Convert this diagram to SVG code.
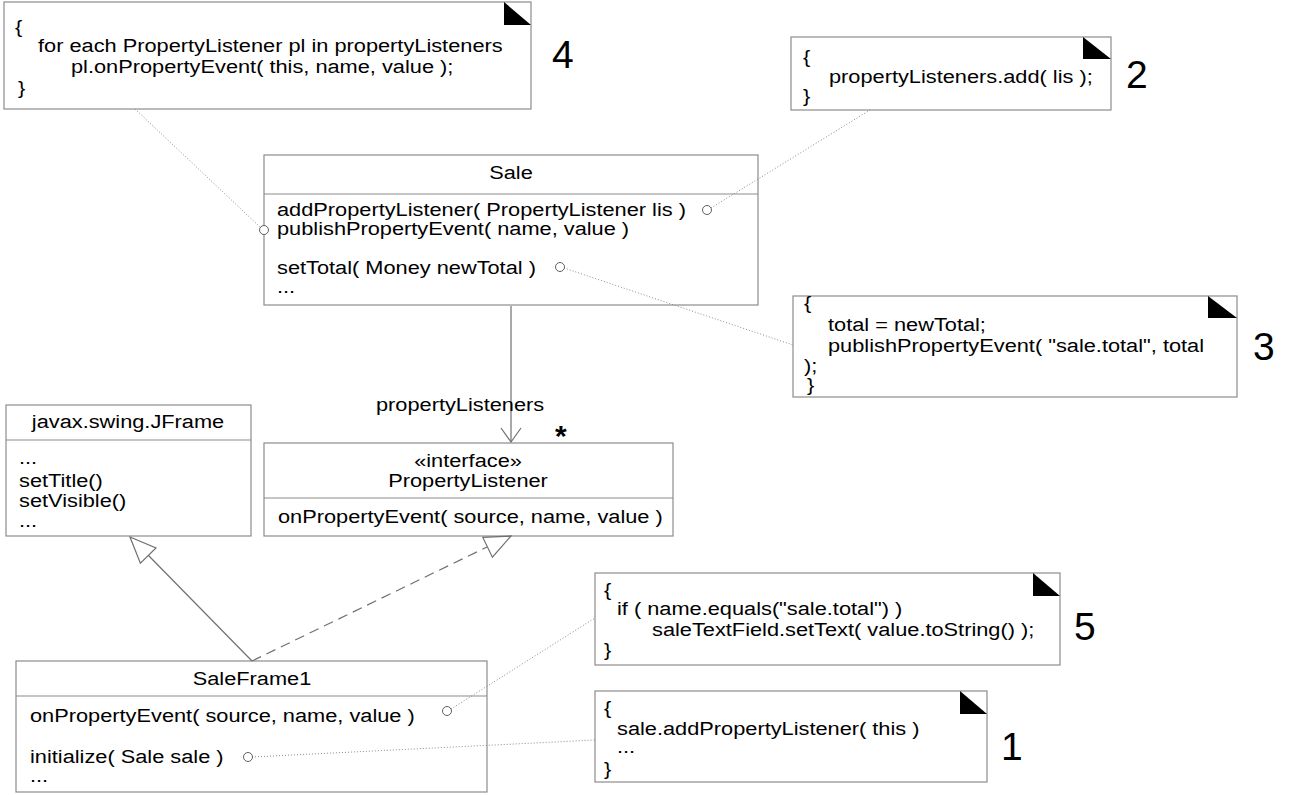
<svg xmlns="http://www.w3.org/2000/svg" width="1296" height="795" viewBox="0 0 1296 795">
<defs>
<style>
text { font-family: "Liberation Sans", Arial, sans-serif; fill: #000; }
.t { font-size: 18px; }
.c { text-anchor: middle; }
.num { font-size: 39px; }
.box { fill: #fff; stroke: #8c8c8c; stroke-width: 1.2; }
.sep { stroke: #8c8c8c; stroke-width: 1.2; }
.ear { fill: #000; }
.dot { fill: none; stroke: #8a8a8a; stroke-width: 1; stroke-dasharray: 1 2; }
.pin { fill: #fff; stroke: #606060; stroke-width: 1; }
.ln { fill: none; stroke: #707070; stroke-width: 1.2; }
.hd { fill: #fff; stroke: #707070; stroke-width: 1.2; }
</style>
</defs>
<rect width="1296" height="795" fill="#fff"/>

<g id="note4">
  <rect class="box" x="4" y="2" width="527" height="107"/>
  <polygon class="ear" points="504,2 531,25 504,25"/>
  <text class="t" transform="translate(15,33) scale(1.21,1)">{</text>
  <text class="t" transform="translate(38,52) scale(1.21,1)">for each PropertyListener pl in propertyListeners</text>
  <text class="t" transform="translate(71,73) scale(1.21,1)">pl.onPropertyEvent( this, name, value );</text>
  <text class="t" transform="translate(18,94) scale(1.21,1)">}</text>
  <text class="num" x="552" y="68">4</text>
</g>

<g id="note2">
  <rect class="box" x="791" y="37" width="320" height="73"/>
  <polygon class="ear" points="1083,37 1111,59 1083,59"/>
  <text class="t" transform="translate(803,63) scale(1.21,1)">{</text>
  <text class="t" transform="translate(829,83) scale(1.21,1)">propertyListeners.add( lis );</text>
  <text class="t" transform="translate(803,102) scale(1.21,1)">}</text>
  <text class="num" x="1126" y="88">2</text>
</g>

<g id="sale">
  <rect class="box" x="264" y="155" width="494" height="150"/>
  <line class="sep" x1="264" y1="194" x2="758" y2="194"/>
  <text class="t c" transform="translate(511,179) scale(1.21,1)">Sale</text>
  <text class="t" transform="translate(277,216) scale(1.21,1)">addPropertyListener( PropertyListener lis )</text>
  <text class="t" transform="translate(277,235) scale(1.21,1)">publishPropertyEvent( name, value )</text>
  <text class="t" transform="translate(277,274) scale(1.21,1)">setTotal( Money newTotal )</text>
  <text class="t" transform="translate(277,293) scale(1.21,1)">...</text>
</g>

<g id="note3">
  <rect class="box" x="793" y="296" width="444" height="101"/>
  <polygon class="ear" points="1208,296 1237,318 1208,318"/>
  <text class="t" transform="translate(804,309) scale(1.21,1)">{</text>
  <text class="t" transform="translate(828,331) scale(1.21,1)">total = newTotal;</text>
  <text class="t" transform="translate(828,352) scale(1.21,1)">publishPropertyEvent( "sale.total", total</text>
  <text class="t" transform="translate(804,372) scale(1.21,1)">);</text>
  <text class="t" transform="translate(807,391) scale(1.21,1)">}</text>
  <text class="num" x="1253" y="360">3</text>
</g>

<g id="jframe">
  <rect class="box" x="6" y="405" width="245" height="131"/>
  <line class="sep" x1="6" y1="440" x2="251" y2="440"/>
  <text class="t c" transform="translate(128,428) scale(1.21,1)">javax.swing.JFrame</text>
  <text class="t" transform="translate(19,464) scale(1.21,1)">...</text>
  <text class="t" transform="translate(19,487) scale(1.21,1)">setTitle()</text>
  <text class="t" transform="translate(19,507) scale(1.21,1)">setVisible()</text>
  <text class="t" transform="translate(19,527) scale(1.21,1)">...</text>
</g>

<g id="propertyListener">
  <rect class="box" x="264" y="443" width="409" height="93"/>
  <line class="sep" x1="264" y1="498" x2="673" y2="498"/>
  <text class="t c" transform="translate(468,467) scale(1.21,1)">«interface»</text>
  <text class="t c" transform="translate(468,487) scale(1.21,1)">PropertyListener</text>
  <text class="t" transform="translate(278,523) scale(1.21,1)">onPropertyEvent( source, name, value )</text>
</g>

<g id="saleFrame1">
  <rect class="box" x="16" y="661" width="471" height="131"/>
  <line class="sep" x1="16" y1="696" x2="487" y2="696"/>
  <text class="t c" transform="translate(252,685) scale(1.21,1)">SaleFrame1</text>
  <text class="t" transform="translate(30,722) scale(1.21,1)">onPropertyEvent( source, name, value )</text>
  <text class="t" transform="translate(30,763) scale(1.21,1)">initialize( Sale sale )</text>
  <text class="t" transform="translate(30,782) scale(1.21,1)">...</text>
</g>

<g id="note5">
  <rect class="box" x="595" y="573" width="465" height="92"/>
  <polygon class="ear" points="1033,573 1060,596 1033,596"/>
  <text class="t" transform="translate(604,596) scale(1.21,1)">{</text>
  <text class="t" transform="translate(617,615) scale(1.21,1)">if ( name.equals("sale.total") )</text>
  <text class="t" transform="translate(652,636) scale(1.21,1)">saleTextField.setText( value.toString() );</text>
  <text class="t" transform="translate(604,656) scale(1.21,1)">}</text>
  <text class="num" x="1074" y="640">5</text>
</g>

<g id="note1">
  <rect class="box" x="595" y="691" width="392" height="91"/>
  <polygon class="ear" points="960,691 987,714 960,714"/>
  <text class="t" transform="translate(604,714) scale(1.21,1)">{</text>
  <text class="t" transform="translate(617,735) scale(1.21,1)">sale.addPropertyListener( this )</text>
  <text class="t" transform="translate(617,753) scale(1.21,1)">...</text>
  <text class="t" transform="translate(604,775) scale(1.21,1)">}</text>
  <text class="num" x="1001" y="760">1</text>
</g>

<g id="connectors">
  <line class="ln" x1="511" y1="306" x2="511" y2="442"/>
  <polyline class="ln" points="501,428 511,442 521,428"/>
  <text class="t" transform="translate(376,411) scale(1.21,1)">propertyListeners</text>
  <text transform="translate(555,446)" style="font-size:30px;font-weight:bold">*</text>
  <line class="ln" x1="252" y1="661" x2="148" y2="555"/>
  <polygon class="hd" points="130,537 156,548 140.4,563.2"/>
  <line class="ln" x1="252" y1="661" x2="487" y2="547" style="stroke-dasharray:10 6"/>
  <polygon class="hd" points="511,536 492.4,557.2 482.8,537.4"/>
  <line class="dot" x1="135" y1="109" x2="260" y2="227"/>
  <line class="dot" x1="711" y1="208" x2="870" y2="110"/>
  <line class="dot" x1="564" y1="268" x2="793" y2="345"/>
  <line class="dot" x1="451" y1="709" x2="595" y2="618"/>
  <line class="dot" x1="252" y1="757" x2="595" y2="740"/>
  <circle class="pin" cx="707" cy="210" r="4.5"/>
  <circle class="pin" cx="264" cy="230" r="4.5"/>
  <circle class="pin" cx="560" cy="267" r="4.5"/>
  <circle class="pin" cx="447" cy="711" r="4.5"/>
  <circle class="pin" cx="248" cy="757" r="4.5"/>
</g>
</svg>
